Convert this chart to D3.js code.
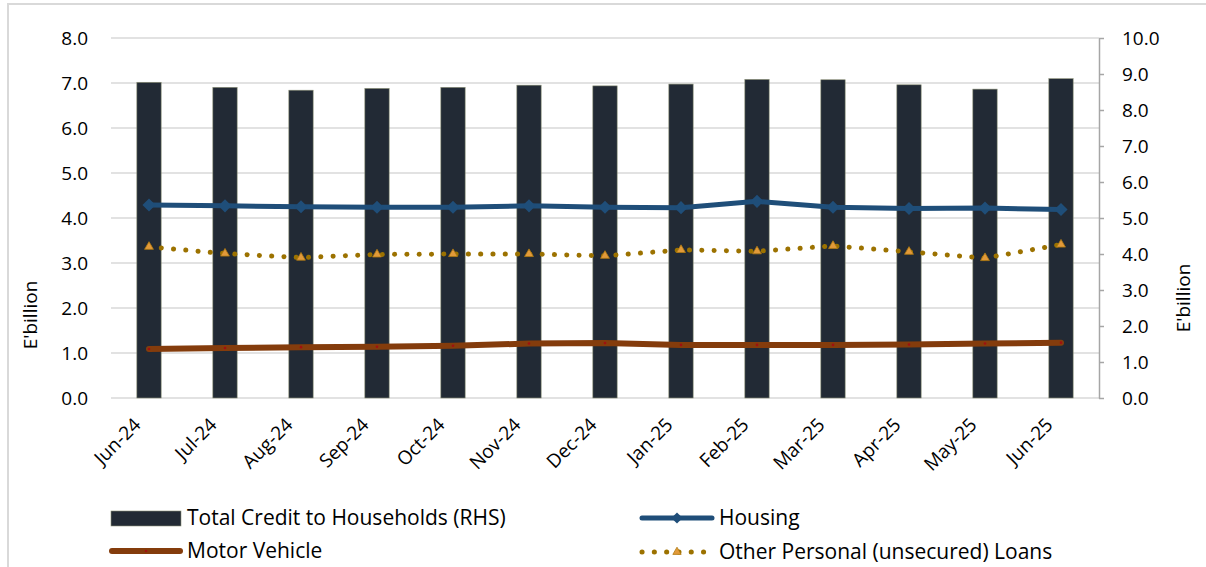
<!DOCTYPE html>
<html>
<head>
<meta charset="utf-8">
<script src="https://cdn.jsdelivr.net/npm/d3@7"></script>
<style>
  body { margin: 0; background: #fff; }
  text { font-family: "Open Sans", "Noto Sans", sans-serif; fill: #000; }
</style>
</head>
<body>
<div id="chart"></div>
<script>
var w = 1206,
    h = 567,
    left = 111,
    right = 1099,
    top_y = 38,
    bottom_y = 398;

var months = ["Jun-24", "Jul-24", "Aug-24", "Sep-24", "Oct-24", "Nov-24", "Dec-24",
              "Jan-25", "Feb-25", "Mar-25", "Apr-25", "May-25", "Jun-25"];

// E'billion
var totalCredit = [8.77, 8.63, 8.55, 8.60, 8.63, 8.69, 8.67, 8.72, 8.85, 8.84, 8.70, 8.58, 8.87];
var housing     = [4.29, 4.27, 4.25, 4.24, 4.24, 4.27, 4.24, 4.23, 4.37, 4.24, 4.21, 4.22, 4.19];
var otherLoans  = [3.36, 3.21, 3.12, 3.19, 3.20, 3.20, 3.16, 3.29, 3.26, 3.38, 3.25, 3.11, 3.41];
var motor       = [1.09, 1.11, 1.13, 1.14, 1.16, 1.21, 1.22, 1.18, 1.18, 1.18, 1.19, 1.21, 1.23];

var leftTicks = [0, 1, 2, 3, 4, 5, 6, 7, 8];
var rightTicks = [0, 1, 2, 3, 4, 5, 6, 7, 8, 9, 10];

var barColor = "#222a35",
    housingColor = "#1f4e79",
    motorColor = "#843c0c",
    otherColor = "#9c7200";

var svg = d3.select("#chart")
    .append("svg")
    .attr("width", w)
    .attr("height", h);

// frame of the original figure
svg.append("rect")
    .attr("x", 8)
    .attr("y", 4)
    .attr("width", w + 10)
    .attr("height", h + 10)
    .style("fill", "none")
    .style("stroke", "#d9d9d9")
    .style("stroke-width", 2);

var x = d3.scaleBand().domain(months).range([left, right]).paddingInner(0.68).paddingOuter(0.34),
    yL = d3.scaleLinear().domain([0, 8]).range([bottom_y, top_y]),
    yR = d3.scaleLinear().domain([0, 10]).range([bottom_y, top_y]);

var cx = function (i) { return x(months[i]) + x.bandwidth() / 2; };

// gridlines
svg.append("g")
    .selectAll("line")
    .data(leftTicks)
    .enter()
    .append("line")
    .attr("x1", left)
    .attr("x2", right)
    .attr("y1", function (d) { return yL(d); })
    .attr("y2", function (d) { return yL(d); })
    .style("stroke", "#d9d9d9")
    .style("stroke-width", 1.5);

// left axis (labels only)
var yAxisL = d3.axisLeft(yL).tickValues(leftTicks).tickFormat(d3.format(".1f")).tickSize(0).tickPadding(23);
var gL = svg.append("g")
    .attr("transform", "translate(" + left + ",0)")
    .call(yAxisL);
gL.select(".domain").remove();
gL.selectAll("text").style("font-size", "19px").style("font-family", "Open Sans");

// right axis
var yAxisR = d3.axisRight(yR).tickValues(rightTicks).tickFormat(d3.format(".1f")).tickSize(5).tickSizeOuter(0).tickPadding(18);
var gR = svg.append("g")
    .attr("transform", "translate(" + right + ",0)")
    .call(yAxisR);
gR.select(".domain").style("stroke", "#a6a6a6").style("stroke-width", 1.5);
gR.selectAll(".tick line").style("stroke", "#a6a6a6").style("stroke-width", 1.5);
gR.selectAll("text").style("font-size", "19px").style("font-family", "Open Sans");

// axis titles
svg.append("text")
    .attr("transform", "translate(37,315) rotate(-90)")
    .attr("text-anchor", "middle")
    .style("font-size", "19px")
    .text("E'billion");

svg.append("text")
    .attr("transform", "translate(1190,298) rotate(-90)")
    .attr("text-anchor", "middle")
    .style("font-size", "19px")
    .text("E'billion");

// bars
svg.append("g")
    .selectAll("rect")
    .data(totalCredit)
    .enter()
    .append("rect")
    .attr("x", function (d, i) { return x(months[i]); })
    .attr("y", function (d) { return yR(d); })
    .attr("width", x.bandwidth())
    .attr("height", function (d) { return bottom_y - yR(d); })
    .style("fill", barColor)
    .style("stroke", "#8d9278")
    .style("stroke-width", 0.6);

// x labels
var xAxis = d3.axisBottom(x).tickSize(0).tickPadding(0);
var gX = svg.append("g")
    .attr("transform", "translate(0," + bottom_y + ")")
    .call(xAxis);
gX.select(".domain").remove();
gX.selectAll(".tick text")
    .attr("text-anchor", "end")
    .attr("y", 0)
    .attr("dy", 0)
    .attr("transform", "translate(-7,28) rotate(-45)")
    .style("font-size", "19px")
    .style("font-family", "Open Sans");

// lines
var line = function (scale) {
    return d3.line()
        .x(function (d, i) { return cx(i); })
        .y(function (d) { return scale(d); });
};

svg.append("path")
    .datum(motor)
    .attr("d", line(yL))
    .style("fill", "none")
    .style("stroke", motorColor)
    .style("stroke-width", 6)
    .style("stroke-linecap", "round");

svg.append("g")
    .selectAll("circle")
    .data(motor)
    .enter()
    .append("circle")
    .attr("cx", function (d, i) { return cx(i); })
    .attr("cy", function (d) { return yL(d); })
    .attr("r", 1.3)
    .style("fill", "#a01010");

svg.append("path")
    .datum(housing)
    .attr("d", line(yL))
    .style("fill", "none")
    .style("stroke", housingColor)
    .style("stroke-width", 5);

svg.append("g")
    .selectAll("path")
    .data(housing)
    .enter()
    .append("path")
    .attr("d", d3.symbol().type(d3.symbolDiamond2).size(110))
    .attr("transform", function (d, i) { return "translate(" + cx(i) + "," + yL(d) + ")"; })
    .style("fill", housingColor);

svg.append("path")
    .datum(otherLoans)
    .attr("d", line(yL))
    .style("fill", "none")
    .style("stroke", otherColor)
    .style("stroke-width", 5)
    .style("stroke-linecap", "round")
    .style("stroke-dasharray", "0.1 12.2");

svg.append("g")
    .selectAll("path")
    .data(otherLoans)
    .enter()
    .append("path")
    .attr("d", d3.symbol().type(d3.symbolTriangle).size(34))
    .attr("transform", function (d, i) { return "translate(" + cx(i) + "," + yL(d) + ")"; })
    .style("fill", "#e29a3a")
    .style("stroke", "#b07a10")
    .style("stroke-width", 0.8);

// legend
var lg = svg.append("g");

lg.append("rect")
    .attr("x", 111).attr("y", 511).attr("width", 70).attr("height", 15)
    .style("fill", barColor).style("stroke", "#8d9278").style("stroke-width", 0.6);
lg.append("text").attr("x", 187).attr("y", 518).attr("dy", "0.35em")
    .style("font-size", "21px").text("Total Credit to Households (RHS)");

lg.append("line").attr("x1", 112).attr("x2", 180).attr("y1", 551).attr("y2", 551)
    .style("stroke", motorColor).style("stroke-width", 6).style("stroke-linecap", "round");
lg.append("circle").attr("cx", 146).attr("cy", 551).attr("r", 1.3).style("fill", "#a01010");
lg.append("text").attr("x", 187).attr("y", 551).attr("dy", "0.35em")
    .style("font-size", "21px").text("Motor Vehicle");

lg.append("line").attr("x1", 642).attr("x2", 712).attr("y1", 518).attr("y2", 518)
    .style("stroke", housingColor).style("stroke-width", 5).style("stroke-linecap", "round");
lg.append("path").attr("d", d3.symbol().type(d3.symbolDiamond2).size(80)())
    .attr("transform", "translate(677,518)").style("fill", housingColor);
lg.append("text").attr("x", 719).attr("y", 518).attr("dy", "0.35em")
    .style("font-size", "21px").text("Housing");

lg.append("line").attr("x1", 642).attr("x2", 708).attr("y1", 552).attr("y2", 552)
    .style("stroke", otherColor).style("stroke-width", 5).style("stroke-linecap", "round")
    .style("stroke-dasharray", "0.1 12.2");
lg.append("path").attr("d", d3.symbol().type(d3.symbolTriangle).size(30)())
    .attr("transform", "translate(677,552)").style("fill", "#e29a3a")
    .style("stroke", "#b07a10").style("stroke-width", 0.8);
lg.append("text").attr("x", 719).attr("y", 552).attr("dy", "0.35em")
    .style("font-size", "21px").text("Other Personal (unsecured) Loans");
</script>
</body>
</html>
